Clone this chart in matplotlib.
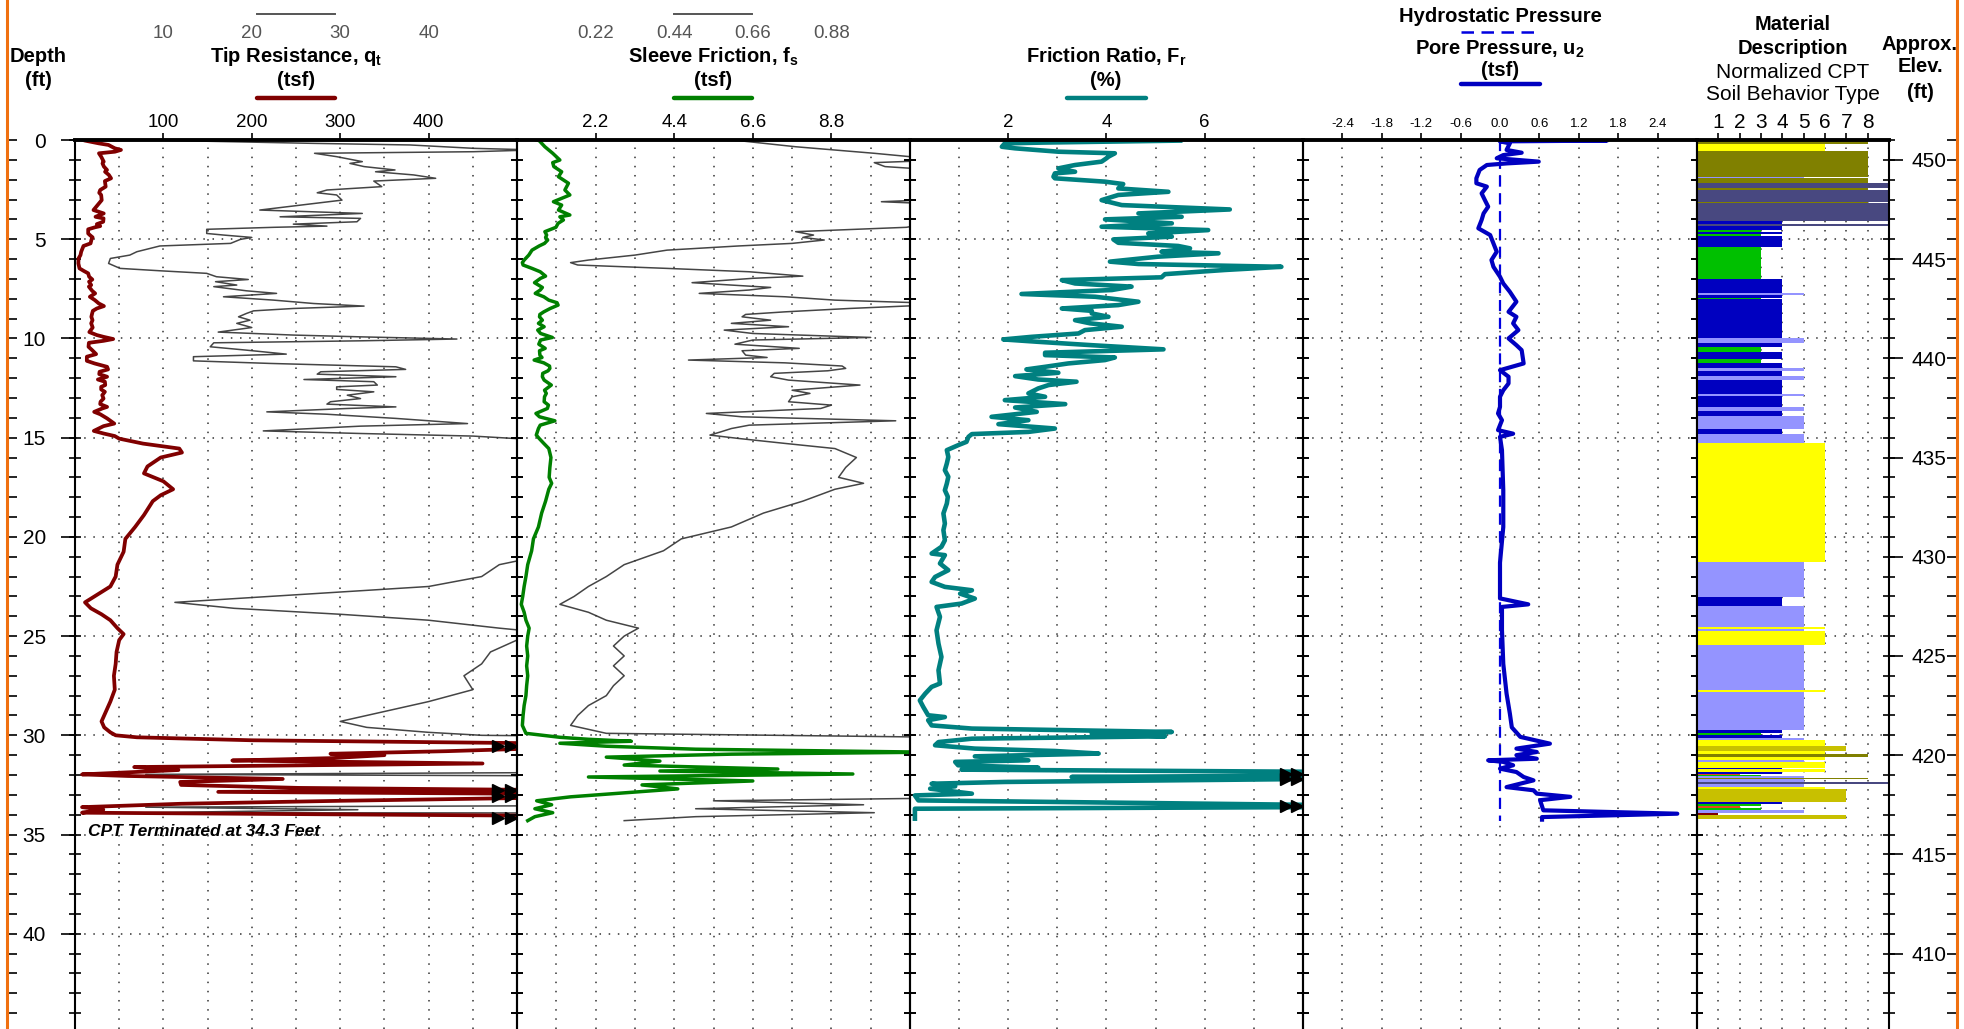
import matplotlib
matplotlib.use('Agg')
import matplotlib.pyplot as plt
import numpy as np
from matplotlib import font_manager
from matplotlib.lines import Line2D
from matplotlib.ticker import MultipleLocator
from matplotlib.transforms import blended_transform_factory

# fonts: narrow bold for headers if it is there
_names = {f.name for f in font_manager.fontManager.ttflist}
NARROW = 'Liberation Sans Narrow' if 'Liberation Sans Narrow' in _names else 'Liberation Sans'
REG = 'Liberation Sans'
plt.rcParams['font.family'] = [REG, 'DejaVu Sans']
plt.rcParams['mathtext.fontset'] = 'custom'
plt.rcParams['mathtext.rm'] = NARROW
plt.rcParams['mathtext.bf'] = NARROW + ':bold'

END_DEPTH = 34.3
SURFACE_ELEV = 451.0

# tip resistance qt (tsf)
qt_depth = [0.0, 0.03, 0.17, 0.25, 0.42, 0.5, 0.59, 0.67, 0.84, 1.09, 1.18, 1.34, 1.51, 1.6,
            1.76, 1.93, 2.07, 2.35, 2.52, 2.66, 2.77, 3.03, 3.16, 3.33, 3.53, 3.7, 3.87, 3.95,
            4.12, 4.24, 4.34, 4.4, 4.5, 4.71, 4.79, 4.91, 5.01, 5.21, 5.34, 5.63, 5.8, 5.97,
            6.22, 6.47, 6.59, 6.72, 6.89, 7.03, 7.14, 7.31, 7.39, 7.6, 7.73, 7.9, 8.07, 8.24,
            8.37, 8.49, 8.61, 8.74, 8.91, 9.08, 9.24, 9.45, 9.58, 9.68, 9.83, 9.92, 10.03, 10.12,
            10.22, 10.42, 10.59, 10.79, 10.92, 11.13, 11.26, 11.43, 11.56, 11.68, 11.8, 11.93,
            12.07, 12.18, 12.35, 12.44, 12.57, 12.69, 12.86, 13.03, 13.19, 13.31, 13.45, 13.53,
            13.7, 13.82, 14.03, 14.29, 14.42, 14.66, 14.79, 14.92, 15.05, 15.3, 15.55, 15.75,
            16.0, 16.45, 16.8, 17.2, 17.6, 17.9, 18.2, 18.9, 19.5, 20.1, 20.75, 21.4, 22.0,
            22.5, 23.0, 23.3, 23.6, 23.9, 24.2, 24.6, 24.9, 25.2, 25.8, 26.4, 27.0, 27.7, 28.3,
            29.0, 29.3, 29.6, 29.85, 30.0, 30.1, 30.25, 30.4, 30.55, 30.65, 30.8, 30.93, 31.0, 31.15,
            31.27, 31.42, 31.6, 31.75, 31.97, 32.05, 32.2, 32.35, 32.5, 32.65, 32.75, 32.85,
            32.95, 33.05, 33.15, 33.3, 33.45, 33.62, 33.75, 33.9, 34.05, 34.2, 34.3]
qt_val = [9.0, 11.3, 27.0, 37.9, 45.1, 52.0, 45.1, 27.1, 29.6, 32.5, 31.1, 32.7, 36.2, 34.0,
          38.3, 40.8, 33.8, 34.7, 28.5, 27.4, 29.6, 30.2, 27.8, 24.7, 20.9, 32.5, 23.2, 32.3,
          31.9, 24.7, 28.5, 22.5, 14.9, 14.9, 16.8, 20.0, 18.7, 17.6, 9.6, 7.0, 6.2, 4.0,
          3.8, 5.1, 9.6, 14.9, 16.0, 19.6, 15.9, 18.3, 15.7, 19.4, 22.8, 16.8, 22.5, 27.0,
          32.7, 24.7, 20.2, 19.4, 18.5, 19.8, 18.3, 20.0, 17.9, 16.2, 24.7, 32.3, 43.2, 32.3,
          15.7, 15.3, 19.4, 23.9, 13.4, 13.4, 22.1, 36.3, 37.4, 27.8, 27.4, 36.3,
          25.9, 33.8, 34.2, 29.6, 29.6, 33.8, 30.8, 32.3, 28.9, 28.5, 36.3, 30.8,
          21.7, 28.5, 36.3, 44.4, 32.3, 21.3, 32.3, 45.0, 50.0, 77.0, 118.0, 121.0,
          97.0, 82.0, 78.0, 100.0, 111.0, 97.0, 88.0, 78.0, 68.0, 57.0, 55.0, 48.0, 46.0,
          40.0, 22.0, 11.3, 18.0, 30.0, 40.0, 48.0, 55.0, 50.0, 47.0, 46.0, 44.0, 45.0, 40.0,
          33.0, 30.0, 33.0, 40.0, 46.0, 70.0, 200.0, 520.0, 540.0, 530.0, 420.0, 289.0, 350.0, 290.0,
          178.0, 461.0, 67.0, 117.0, 8.0, 60.0, 235.0, 119.0, 120.0, 253.0, 520.0, 162.0,
          530.0, 540.0, 520.0, 300.0, 120.0, 8.0, 32.0, 8.0, 520.0, 540.0, 530.0]

# sleeve friction fs (tsf)
fs_depth = [0.0, 0.03, 0.34, 0.67, 1.01, 1.14, 1.34, 1.6, 1.85, 2.18, 2.52, 2.77, 3.11, 3.28,
            3.53, 3.78, 3.87, 4.03, 4.2, 4.4, 4.62, 4.79, 4.91, 5.04, 5.21, 5.34, 5.55, 5.8,
            6.05, 6.18, 6.3, 6.47, 6.64, 6.86, 6.97, 7.19, 7.31, 7.43, 7.56, 7.73, 7.9, 8.07,
            8.2, 8.32, 8.49, 8.66, 8.79, 8.91, 9.08, 9.24, 9.41, 9.58, 9.75, 9.95, 10.08, 10.29,
            10.5, 10.62, 10.84, 10.96, 11.09, 11.23, 11.39, 11.51, 11.63, 11.76, 11.93, 12.1,
            12.35, 12.61, 12.77, 12.94, 13.19, 13.36, 13.53, 13.78, 13.95, 14.15, 14.37, 14.54,
            14.71, 14.87, 15.04, 15.29, 15.55, 16.0, 16.5, 17.0, 17.3, 17.6, 18.2, 18.8, 19.5,
            20.1, 20.7, 21.4, 22.0, 22.5, 23.0, 23.4, 23.8, 24.2, 24.6, 25.0, 25.5, 26.0, 26.5,
            27.0, 27.5, 28.0, 28.5, 29.0, 29.5, 29.9, 30.1, 30.2, 30.3, 30.4, 30.55, 30.7, 30.85,
            30.95, 31.1, 31.3, 31.5, 31.7, 31.8, 31.95, 32.1, 32.3, 32.5, 32.7, 32.9, 33.1, 33.3,
            33.5, 33.7, 33.9, 34.1, 34.3]
fs_val = [0.55, 0.62, 0.78, 1.0, 1.2, 1.0, 1.03, 1.25, 1.16, 1.44, 1.34, 1.48, 1.02, 1.25,
          1.16, 1.48, 1.2, 1.3, 1.15, 1.09, 0.78, 0.83, 0.8, 0.86, 0.77, 0.62, 0.42, 0.33,
          0.2, 0.15, 0.17, 0.42, 0.65, 0.8, 0.66, 0.49, 0.6, 0.71, 0.65, 0.51, 0.75, 0.89,
          1.12, 1.15, 0.93, 0.75, 0.64, 0.63, 0.71, 0.6, 0.76, 0.58, 0.66, 0.99, 0.66, 0.61,
          0.79, 0.63, 0.64, 0.7, 0.48, 0.75, 0.91, 0.92, 0.87, 0.72, 0.71, 0.76,
          0.96, 0.77, 0.82, 0.77, 0.76, 0.88, 0.85, 0.53, 0.63, 1.06, 0.65, 0.6,
          0.57, 0.54, 0.62, 0.75, 0.89, 0.95, 0.92, 0.9, 0.97, 0.89, 0.8, 0.69, 0.6,
          0.46, 0.41, 0.3, 0.25, 0.2, 0.16, 0.12, 0.2, 0.25, 0.34, 0.3, 0.27, 0.3, 0.27,
          0.3, 0.27, 0.25, 0.2, 0.17, 0.15, 0.25, 1.2, 2.0, 3.2, 1.2, 2.5, 5.0, 11.5,
          6.0, 2.5, 4.0, 3.0, 7.3, 4.0, 9.4, 2.0, 6.6, 3.5, 4.5, 3.0, 1.5, 0.55,
          0.97, 0.5, 1.0, 0.5, 0.3]

# friction ratio Fr (%)
fr_depth = [0.03, 0.13, 0.17, 0.34, 0.42, 0.59, 0.67, 0.84, 0.92, 1.09, 1.26, 1.43, 1.6, 1.68,
            1.85, 1.93, 2.1, 2.22, 2.44, 2.61, 2.77, 3.03, 3.28, 3.5, 3.7, 3.87, 4.0, 4.2, 4.37,
            4.54, 4.71, 4.87, 5.01, 5.18, 5.34, 5.46, 5.63, 5.71, 5.88, 6.13, 6.25, 6.39, 6.55,
            6.76, 6.92, 7.06, 7.23, 7.39, 7.56, 7.76, 7.9, 8.15, 8.32, 8.49, 8.61, 8.74, 8.91,
            9.08, 9.24, 9.41, 9.58, 9.75, 9.92, 10.05, 10.17, 10.34, 10.55, 10.72, 10.84, 10.96,
            11.09, 11.26, 11.43, 11.56, 11.73, 11.9, 12.07, 12.18, 12.35, 12.52, 12.77, 12.94,
            13.11, 13.31, 13.48, 13.7, 13.95, 14.12, 14.32, 14.54, 14.71, 14.82, 14.96, 15.21,
            15.38, 15.63, 15.97, 16.3, 16.64, 16.97, 17.31, 17.65, 17.98, 18.32, 18.82, 19.33,
            19.66, 20.17, 20.5, 20.84, 20.92, 21.34, 21.68, 22.02, 22.27, 22.52, 22.69, 22.86,
            23.11, 23.36, 23.53, 24.03, 24.71, 25.38, 26.05, 26.72, 27.39, 27.56, 27.9, 28.24,
            28.57, 28.99, 29.08, 29.24, 29.5, 29.66, 29.83, 29.92, 30.05, 30.17, 30.34, 30.5,
            30.67, 30.79, 30.92, 31.06, 31.26, 31.34, 31.51, 31.63, 31.73, 31.85, 32.02, 32.1,
            32.18, 32.35, 32.44, 32.57, 32.69, 32.94, 33.03, 33.28, 33.53, 33.61, 33.7, 34.2]
fr_val = [5.5, 2.7, 1.93, 1.87, 2.14, 3.02, 4.17, 4.04, 4.0, 3.9, 3.36, 3.02, 3.36, 2.95,
          2.92, 2.95, 3.97, 4.34, 4.24, 5.26, 4.24, 3.9, 4.31, 6.51, 4.65, 5.53, 3.97, 5.33, 3.9,
          6.07, 4.85, 5.33, 4.14, 4.24, 5.46, 5.7, 5.12, 6.28, 5.05, 4.07, 4.65, 7.56, 6.41,
          5.19, 5.12, 3.09, 3.36, 4.51, 4.11, 2.27, 3.77, 4.65, 4.24, 3.09, 3.7, 3.7, 4.04,
          3.36, 3.67, 4.31, 3.56, 3.43, 2.47, 1.9, 2.61, 3.7, 5.16, 2.75, 2.75, 4.17,
          3.97, 3.22, 2.75, 2.37, 3.02, 2.14, 2.61, 3.39, 2.82, 2.61, 2.41, 2.75,
          1.93, 3.16, 2.14, 2.58, 1.66, 2.41, 1.8, 2.95, 2.41, 1.26, 1.19, 1.15,
          0.98, 0.75, 0.78, 0.75, 0.71, 0.78, 0.75, 0.71, 0.77, 0.75, 0.68, 0.71,
          0.68, 0.71, 0.64, 0.44, 0.71, 0.61, 0.78, 0.51, 0.44, 0.71, 1.26, 1.02,
          1.32, 1.05, 0.54, 0.61, 0.54, 0.58, 0.64, 0.58, 0.61, 0.44, 0.31, 0.2,
          0.27, 0.37, 0.71, 0.37, 0.44, 1.26, 5.33, 3.7, 5.19, 1.26, 0.58, 0.51,
          1.32, 2.95, 3.84, 1.32, 2.41, 0.92, 0.98, 2.61, 1.05, 9.0, 9.0, 3.29,
          9.0, 1.93, 0.44, 0.92, 0.41, 1.26, 0.1, 0.17, 9.0, 9.0, 0.1, 0.1]

# pore pressure u2 (tsf)
u2_depth = [0.0, 0.03, 0.07, 0.17, 0.5, 0.64, 0.76, 0.92, 1.09, 1.18, 1.26, 1.51, 1.93, 2.18,
            2.35, 2.69, 3.03, 3.36, 3.7, 4.03, 4.45, 4.79, 5.21, 5.63, 6.05, 6.39, 6.89, 7.23,
            7.65, 8.15, 8.66, 8.91, 9.24, 9.58, 10.0, 10.34, 10.59, 11.26, 11.6, 11.93, 12.27,
            12.61, 12.94, 13.45, 13.78, 14.12, 14.62, 14.8, 14.96, 15.63, 17.65, 19.5, 21.3,
            22.86, 23.1, 23.4, 23.53, 24.7, 26.4, 27.9, 28.9, 29.6, 30.08, 30.42, 30.67, 30.84,
            31.0, 31.18, 31.26, 31.34, 31.51, 31.68, 31.85, 32.1, 32.27, 32.61, 32.77, 32.94,
            33.1, 33.27, 33.78, 33.95, 34.12, 34.25]
u2_val = [0.0, 1.63, 0.0, 0.15, 0.1, 0.33, 0.05, -0.05, 0.59, 0.1, -0.2, -0.31, -0.36, -0.36,
          -0.2, -0.28, -0.23, -0.18, -0.25, -0.28, -0.33, -0.15, -0.1, -0.05, -0.13, -0.1, 0.0, 0.05,
          0.15, 0.25, 0.13, 0.25, 0.2, 0.28, 0.13, 0.25, 0.33, 0.36, 0.0, 0.13, 0.13,
          0.05, 0.0, 0.0, -0.03, 0.03, -0.03, 0.2, 0.0, 0.03, 0.05, 0.05, 0.0,
          0.0, 0.0, 0.43, 0.03, 0.03, 0.05, 0.1, 0.15, 0.18, 0.31, 0.76, 0.25, 0.56,
          0.25, 0.56, -0.18, 0.05, 0.2, 0.0, 0.25, 0.36, 0.51, 0.1, 0.51, 0.56,
          1.07, 0.61, 0.66, 2.7, 0.64, 0.64]

# hydrostatic pressure (tsf)
hyd_depth = [0.0, 34.3]
hyd_val = [0.0, 0.0]

# normalized soil behaviour type layers
sbt_top = [0.03, 0.2, 0.54, 1.85, 1.91, 2.15, 2.44, 2.5, 3.1, 3.18, 4.08, 4.24, 4.34, 4.54,
           4.64, 4.74, 4.84, 5.38, 7.01, 7.73, 7.8, 7.95, 8.02, 10.0, 10.25, 10.45, 10.67,
           11.05, 11.22, 11.48, 11.63, 11.9, 12.1, 12.8, 12.89, 13.45, 13.66, 13.92, 14.54,
           14.82, 15.29, 21.26, 23.03, 23.5, 24.54, 24.64, 24.76, 25.46, 27.7, 27.8, 29.75,
           29.88, 30.0, 30.12, 30.25, 30.55, 30.79, 30.96, 31.09, 31.22, 31.33, 31.63, 31.7,
           31.87, 31.93, 31.98, 32.06, 32.13, 32.2, 32.34, 32.47, 32.61, 32.71, 33.36, 33.45,
           33.58, 33.65, 33.75, 33.92, 34.03]
sbt_bot = [0.2, 0.54, 1.85, 1.91, 2.15, 2.44, 2.5, 3.1, 3.18, 4.08, 4.24, 4.34, 4.54, 4.64,
           4.74, 4.84, 5.38, 7.01, 7.73, 7.8, 7.95, 8.02, 10.0, 10.25, 10.45, 10.67, 11.05,
           11.22, 11.48, 11.63, 11.9, 12.1, 12.8, 12.89, 13.45, 13.66, 13.92, 14.54, 14.82,
           15.29, 21.26, 23.03, 23.5, 24.54, 24.64, 24.76, 25.46, 27.7, 27.8, 29.75, 29.88,
           30.0, 30.12, 30.25, 30.55, 30.79, 30.96, 31.09, 31.22, 31.33, 31.63, 31.7, 31.87,
           31.93, 31.98, 32.06, 32.13, 32.2, 32.34, 32.47, 32.61, 32.71, 33.36, 33.45, 33.58,
           33.65, 33.75, 33.92, 34.03, 34.2]
sbt_zone = [8, 6, 8, 5, 8, 9, 8, 9, 8, 9, 4, 9, 4, 3,
            4, 3, 4, 3, 4, 5, 4, 3, 4, 5, 4, 3, 4,
            3, 4, 5, 4, 5, 4, 5, 4, 5, 4, 5, 4,
            5, 6, 5, 4, 5, 6, 5, 6, 5, 6, 5, 4,
            3, 4, 5, 6, 7, 6, 8, 6, 5, 6, 4, 6,
            4, 2, 3, 5, 8, 5, 9, 5, 6, 7, 4, 3,
            2, 3, 5, 1, 7]
sbt_colors = {1: '#800000', 2: '#E8461E', 3: '#00C000', 4: '#0000C0', 5: '#9494FF',
              6: '#FFFF00', 7: '#C8C000', 8: '#808000', 9: '#484880'}

# ---------------- layout ----------------
W, H = 1965, 1029
TOP = 140
DEPTH_MAX = 44.8
edges = [75, 517, 910, 1303, 1697, 1889]
GRID = dict(color='#333333', linestyle=(0, (1, 5)), linewidth=1.1)

fig = plt.figure(figsize=(W / 100, H / 100), dpi=100)


def rect(i):
    l, r = edges[i], edges[i + 1]
    return [l / W, 0, (r - l) / W, (H - TOP) / H]


def ftext(x, y, s, **kw):
    kw.setdefault('ha', 'center')
    kw.setdefault('va', 'center')
    fig.text(x / W, 1 - y / H, s, **kw)


def fline(x0, x1, y, **kw):
    fig.add_artist(Line2D([x0 / W, x1 / W], [1 - y / H, 1 - y / H], **kw))


def style_panel(ax, xlim, major, minor, labelsize=13.5, labelfont=REG, pad=1.5):
    ax.set_xlim(*xlim)
    ax.set_ylim(DEPTH_MAX, 0)
    ax.set_facecolor('none')
    ax.xaxis.set_ticks_position('top')
    ax.set_xticks(major)
    ax.set_xticks(minor, minor=True)
    ax.tick_params(axis='x', which='major', top=True, bottom=False, direction='out', length=5,
                   width=1.2, labeltop=True, labelbottom=False, labelsize=labelsize, pad=pad)
    ax.tick_params(axis='x', which='minor', top=False, bottom=False, length=0)
    for lab in ax.get_xticklabels():
        lab.set_fontfamily(labelfont)
    ax.yaxis.set_major_locator(MultipleLocator(5))
    ax.yaxis.set_minor_locator(MultipleLocator(1))
    ax.tick_params(axis='y', which='both', left=True, right=True, direction='inout', length=8,
                   width=1.2, labelleft=False, labelright=False)
    ax.grid(True, which='both', axis='x', **GRID)
    ax.grid(True, which='major', axis='y', **GRID)
    ax.set_axisbelow(True)
    ax.spines['bottom'].set_visible(False)
    ax.spines['top'].set_linewidth(2.8)
    ax.spines['left'].set_linewidth(1.5)
    ax.spines['right'].set_linewidth(1.5)


def offscale_runs(depths, vals, lim):
    d = np.asarray(depths)
    v = np.asarray(vals)
    over = v > lim
    runs, i = [], 0
    while i < len(v):
        if over[i]:
            j = i
            while j + 1 < len(v) and over[j + 1]:
                j += 1
            runs.append(d[i:j + 1].mean())
            i = j + 1
        else:
            i += 1
    return runs


def arrows(ax, depths):
    tr = blended_transform_factory(ax.transAxes, ax.transData)
    for dd in depths:
        ax.plot([0.958, 0.986], [dd, dd], transform=tr, ls='none', marker='>', ms=8,
                color='black', clip_on=False, zorder=6)


# ---- panel 1: tip resistance ----
ax1g = fig.add_axes(rect(0), zorder=1)
ax1g.set_xlim(0, 50)
ax1g.set_ylim(DEPTH_MAX, 0)
ax1g.axis('off')
ax1g.plot(qt_val, qt_depth, color='#454545', lw=1.1)
ax1 = fig.add_axes(rect(0), zorder=2)
style_panel(ax1, (0, 500), [100, 200, 300, 400], np.arange(50, 500, 50))
ax1.plot(qt_val, qt_depth, color='#800000', lw=2.7, solid_joinstyle='round')
arrows(ax1, offscale_runs(qt_depth, qt_val, 500))
ax1.text(14.5, 34.85, 'CPT Terminated at 34.3 Feet', fontsize=12.5, fontweight='bold',
         fontstyle='italic', va='center', ha='left')
gtr = blended_transform_factory(ax1g.transData, fig.transFigure)
for t in [10, 20, 30, 40]:
    ax1g.text(t, 1 - 33 / H, str(t), transform=gtr, ha='center', va='center',
              fontsize=13.5, color='#555555', clip_on=False)

# ---- panel 2: sleeve friction ----
ax2g = fig.add_axes(rect(1), zorder=1)
ax2g.set_xlim(0, 1.1)
ax2g.set_ylim(DEPTH_MAX, 0)
ax2g.axis('off')
ax2g.plot(fs_val, fs_depth, color='#454545', lw=1.1)
ax2 = fig.add_axes(rect(1), zorder=2)
style_panel(ax2, (0, 11), [2.2, 4.4, 6.6, 8.8], np.arange(1.1, 11, 1.1))
ax2.set_xticklabels(['2.2', '4.4', '6.6', '8.8'])
ax2.plot(fs_val, fs_depth, color='#008000', lw=2.5, solid_joinstyle='round')
gtr2 = blended_transform_factory(ax2g.transData, fig.transFigure)
for t in [0.22, 0.44, 0.66, 0.88]:
    ax2g.text(t, 1 - 33 / H, f'{t:.2f}', transform=gtr2, ha='center', va='center',
              fontsize=13.5, color='#555555', clip_on=False)

# ---- panel 3: friction ratio ----
ax3 = fig.add_axes(rect(2), zorder=2)
style_panel(ax3, (0, 8), [2, 4, 6], np.arange(1, 8, 1))
ax3.plot(fr_val, fr_depth, color='#008080', lw=3.3, solid_joinstyle='round')
arrows(ax3, offscale_runs(fr_depth, fr_val, 8))

# ---- panel 4: pore pressure ----
ax4 = fig.add_axes(rect(3), zorder=2)
u_ticks = [-2.4, -1.8, -1.2, -0.6, 0.0, 0.6, 1.2, 1.8, 2.4]
style_panel(ax4, (-3, 3), u_ticks, [], labelsize=9.5, labelfont=NARROW, pad=2.5)
ax4.set_xticklabels([f'{t:.1f}' for t in u_ticks])
for lab in ax4.get_xticklabels():
    lab.set_fontfamily(NARROW)
ax4.plot(hyd_val, hyd_depth, color='#0000E0', lw=1.6, ls=(0, (5, 3)))
ax4.plot(u2_val, u2_depth, color='#0000C0', lw=3.0, solid_joinstyle='round')

# ---- panel 5: SBT ----
ax5 = fig.add_axes(rect(4), zorder=2)
style_panel(ax5, (0, 9), list(range(1, 9)), [], labelsize=15, labelfont=NARROW, pad=0.5)
ax5.barh([(a + b) / 2 for a, b in zip(sbt_top, sbt_bot)], sbt_zone,
         height=[b - a for a, b in zip(sbt_top, sbt_bot)], left=0,
         color=[sbt_colors[z] for z in sbt_zone], edgecolor='none', zorder=2)

# depth labels (left) and elevation labels (right)
axd = fig.add_axes([75 / W, 0, 1e-6, (H - TOP) / H])
axd.set_ylim(DEPTH_MAX, 0)
for s in axd.spines.values():
    s.set_visible(False)
axd.set_xticks([])
axd.yaxis.set_major_locator(MultipleLocator(5))
axd.tick_params(axis='y', left=True, right=False, direction='out', length=10, width=1.2,
                labelsize=15, pad=11)

axe = fig.add_axes([1889 / W, 0, 1e-6, (H - TOP) / H])
axe.set_ylim(SURFACE_ELEV - DEPTH_MAX, SURFACE_ELEV)
for s in axe.spines.values():
    s.set_visible(False)
axe.set_xticks([])
axe.yaxis.tick_right()
axe.yaxis.set_major_locator(MultipleLocator(5))
axe.tick_params(axis='y', right=True, left=False, direction='out', length=10, width=1.2,
                labelsize=15, pad=6)

# page frame lines with small ticks
for xpx, side in [(7, 'right'), (1957, 'left')]:
    fig.add_artist(Line2D([xpx / W, xpx / W], [0, 1], color='#F07010', lw=2.2))
    axf = fig.add_axes([xpx / W, 0, 1e-6, (H - TOP) / H])
    axf.set_ylim(DEPTH_MAX, 0)
    for s in axf.spines.values():
        s.set_visible(False)
    axf.set_xticks([])
    axf.yaxis.set_major_locator(MultipleLocator(1))
    axf.tick_params(axis='y', left=(side == 'left'), right=(side == 'right'),
                    direction='out', length=7, width=1.2, labelleft=False, labelright=False)

# ---------------- header ----------------
BOLD = dict(fontfamily=NARROW, fontweight='bold', fontsize=14.5)
ftext(38, 57, 'Depth', **BOLD)
ftext(38, 81, '(ft)', **BOLD)

ftext(296, 57, r'Tip Resistance, q$_\mathbf{t}$', **BOLD)
ftext(296, 81, '(tsf)', **BOLD)
fline(257, 335, 14, color='#555555', lw=1.4)
fline(257, 335, 98, color='#800000', lw=3.2, solid_capstyle='round')

ftext(713, 57, r'Sleeve Friction, f$_\mathbf{s}$', **BOLD)
ftext(713, 81, '(tsf)', **BOLD)
fline(674, 752, 14, color='#555555', lw=1.4)
fline(674, 752, 98, color='#008000', lw=3.2, solid_capstyle='round')

ftext(1106, 57, r'Friction Ratio, F$_\mathbf{r}$', **BOLD)
ftext(1106, 81, '(%)', **BOLD)
fline(1067, 1146, 98, color='#008080', lw=3.2, solid_capstyle='round')

ftext(1500, 17, 'Hydrostatic Pressure', **BOLD)
fline(1461, 1540, 32, color='#0000E0', lw=1.8, ls=(0, (5, 3)))
ftext(1500, 49, r'Pore Pressure, u$_\mathbf{2}$', **BOLD)
ftext(1500, 70, '(tsf)', **BOLD)
fline(1461, 1540, 84, color='#0000C0', lw=3.2, solid_capstyle='round')

ftext(1793, 25, 'Material', **BOLD)
ftext(1793, 48, 'Description', **BOLD)
ftext(1793, 72, 'Normalized CPT', fontsize=15)
ftext(1793, 94, 'Soil Behavior Type', fontsize=15)

ftext(1920, 45, 'Approx.', **BOLD)
ftext(1920, 67, 'Elev.', **BOLD)
ftext(1920, 92, '(ft)', **BOLD)

fig.savefig('out.png', dpi=100)
